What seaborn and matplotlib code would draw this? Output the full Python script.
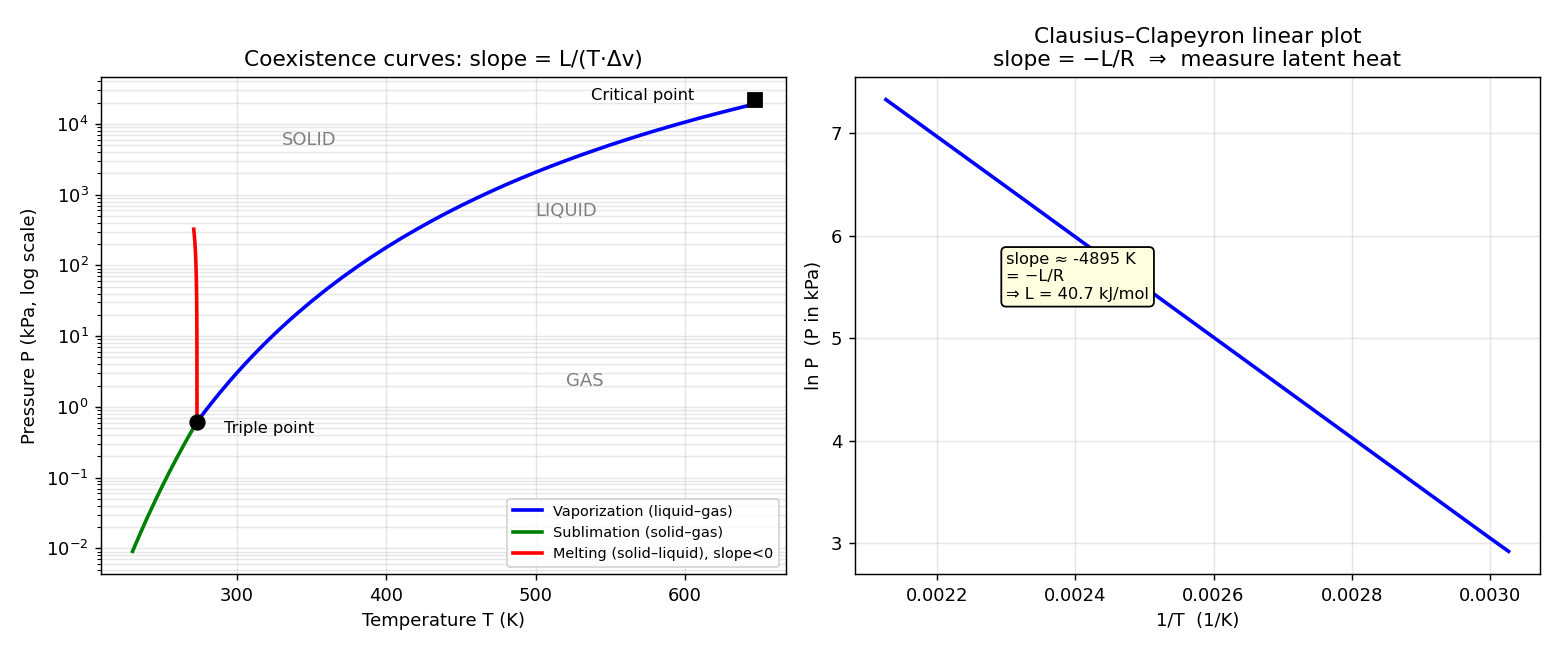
import numpy as np
import matplotlib
matplotlib.use("Agg")
import matplotlib.pyplot as plt
import seaborn as sns

# -----------------------------
# Values
# -----------------------------
# vaporization curve (liquid-gas), T in K, P in kPa
vap_T = [273.16, 275, 280, 285, 290, 295, 300, 305, 310, 315, 320, 325, 330, 335,
         340, 350, 360, 370, 380, 390, 400, 410, 420, 430, 440, 450, 460, 470,
         480, 490, 500, 510, 520, 530, 540, 550, 560, 570, 580, 590, 600, 610,
         620, 630, 640, 647]
vap_P = [0.611, 0.689, 0.947, 1.287, 1.73, 2.303, 3.04, 3.969, 5.141, 6.605, 8.42,
         10.66, 13.39, 16.71, 20.7, 31.24, 46.1, 66.54, 94.2, 131.2, 179.6, 242.0,
         321, 421.6, 546, 699.1, 885, 1111, 1381, 1699, 2074, 2513, 3020, 3610,
         4279, 5052, 5921, 6904, 8004, 9238, 10600, 12130, 13790, 15640, 17660, 19190]

# sublimation curve (solid-gas)
sub_T = [230, 235, 240, 245, 250, 255, 260, 265, 270, 273.16]
sub_P = [0.00905, 0.01594, 0.02746, 0.04626, 0.07632, 0.1235, 0.196, 0.3061, 0.4699, 0.611]

# melting curve (solid-liquid), negative slope
melt_T = [273.16, 273.155, 273.14, 273.11, 273.06, 272.96, 272.76, 272.46,
          272.16, 271.76, 271.36, 271.0]
melt_P = [0.611, 1.36, 3.61, 8.11, 15.6, 30.6, 60.6, 105.6, 150.6, 210.6, 270.6, 324.6]

triple_T, triple_P = [273.16], [0.611]
crit_T, crit_P = [647.0], [22064.0]

# Clausius-Clapeyron linear plot
inv_T = [0.002126, 0.0023, 0.0024, 0.0026, 0.0028, 0.0030, 0.003027]
ln_P = [7.33, 6.48, 5.99, 5.01, 4.03, 3.05, 2.92]

fig, (ax1, ax2) = plt.subplots(1, 2, figsize=(12, 5), dpi=130)
fig.subplots_adjust(left=0.065, right=0.987, bottom=0.117, top=0.8815, wspace=0.1)

# -----------------------------
# Left: phase diagram
# -----------------------------
ax1.set_yscale("log")
sns.lineplot(x=vap_T, y=vap_P, ax=ax1, color="blue", lw=2, label="Vaporization (liquid–gas)")
sns.lineplot(x=sub_T, y=sub_P, ax=ax1, color="green", lw=2, label="Sublimation (solid–gas)")
sns.lineplot(x=melt_T, y=melt_P, ax=ax1, color="red", lw=2, sort=False,
             label="Melting (solid–liquid), slope<0")
ax1.plot(triple_T, triple_P, "ko", ms=8, zorder=5)
ax1.plot(crit_T, crit_P, "ks", ms=8, zorder=5)

ax1.text(triple_T[0] + 18, 0.43, "Triple point", fontsize=9)
ax1.text(crit_T[0] - 110, crit_P[0], "Critical point", fontsize=9)
ax1.text(330, 5e3, "SOLID", fontsize=10, color="gray")
ax1.text(500, 500, "LIQUID", fontsize=10, color="gray")
ax1.text(520, 2, "GAS", fontsize=10, color="gray")

ax1.set_xlabel("Temperature T (K)")
ax1.set_ylabel("Pressure P (kPa, log scale)")
ax1.set_title("Coexistence curves: slope = L/(T·Δv)", fontsize=12)
ax1.grid(True, which="both", alpha=0.3)
ax1.legend(loc="lower right", fontsize=8)

# -----------------------------
# Right: ln P vs 1/T
# -----------------------------
sns.lineplot(x=inv_T, y=ln_P, ax=ax2, color="blue", lw=2)
ax2.text(0.0023, 5.6, "slope ≈ -4895 K\n= −L/R\n⇒ L = 40.7 kJ/mol", fontsize=9, va="center",
         bbox=dict(boxstyle="round", facecolor="lightyellow", edgecolor="black"))
ax2.set_xlabel("1/T  (1/K)")
ax2.set_ylabel("ln P  (P in kPa)")
ax2.set_title("Clausius–Clapeyron linear plot\nslope = −L/R  ⇒  measure latent heat", fontsize=12)
ax2.grid(True, alpha=0.3)

plt.savefig("out.png", dpi=130)
